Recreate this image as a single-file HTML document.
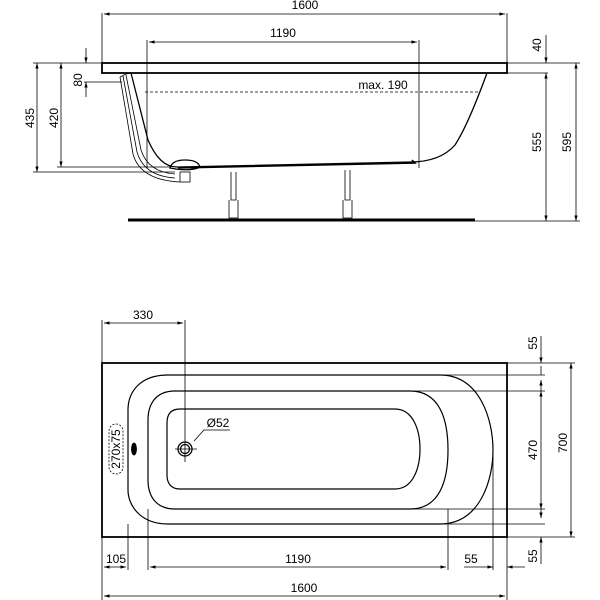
<!DOCTYPE html>
<html><head><meta charset="utf-8"><style>
html,body{margin:0;padding:0;background:#fff;}
svg{display:block;font-family:"Liberation Sans",Arial,sans-serif;}
</style></head><body>
<svg width="600" height="600" viewBox="0 0 600 600" xmlns="http://www.w3.org/2000/svg">
<defs>
<marker id="a" viewBox="0 0 10 10" refX="10" refY="5" markerWidth="7" markerHeight="7" orient="auto-start-reverse"><path d="M0,2 L10,5 L0,8 z" fill="#000"/></marker>
</defs>
<g stroke="#000" fill="none" stroke-width="0.8">
<!-- SIDE VIEW -->
<rect x="102" y="63" width="405" height="10" stroke-width="1.8"/>
<!-- tub body -->
<path d="M131,73 L148,140 Q160,168 178,167 L410,162 Q440,162 455,145 Q468,125 487,73" stroke-width="1.3"/>
<path d="M178,168 L415,163 L412,160" stroke-width="1.5"/>
<!-- pipes -->
<path d="M126,75 L141,150 Q148,172 175,174" />
<path d="M123,76 L137,152 Q144,176 175,178" />
<path d="M120,77 L133,154 Q140,180 180,182" />
<path d="M120,77 L126,74 L131,73"/>
<path d="M170,168 Q172,160 185,160 Q198,160 200,167 Q190,172 170,168 z" stroke-width="1.3"/>
<rect x="180" y="172" width="10" height="10"/>
<!-- dashed water line -->
<line x1="145" y1="92" x2="478" y2="92" stroke-dasharray="3,2"/>
<!-- legs -->
<path d="M231,172 L231,200 L236,200 L236,172 M229,200 L229,218 L238,218 L238,200"/>
<path d="M345,170 L345,200 L350,200 L350,170 M343,200 L343,218 L352,218 L352,200"/>
<line x1="128" y1="220" x2="475" y2="220" stroke-width="3"/>
<!-- dims side -->
<line x1="102" y1="13" x2="102" y2="63"/><line x1="507" y1="13" x2="507" y2="63"/>
<line x1="104" y1="14" x2="505" y2="14" marker-start="url(#a)" marker-end="url(#a)"/>
<line x1="147" y1="40" x2="147" y2="168"/><line x1="419" y1="40" x2="419" y2="168"/>
<line x1="149" y1="42" x2="417" y2="42" marker-start="url(#a)" marker-end="url(#a)"/>
<line x1="33" y1="63" x2="102" y2="63"/>
<line x1="507" y1="63" x2="580" y2="63"/><line x1="507" y1="73" x2="548" y2="73"/>
<line x1="546" y1="35" x2="546" y2="63" marker-end="url(#a)"/>
<line x1="546" y1="73" x2="546" y2="221" marker-start="url(#a)" marker-end="url(#a)"/>
<line x1="576" y1="63" x2="576" y2="221" marker-start="url(#a)" marker-end="url(#a)"/>
<line x1="475" y1="221" x2="580" y2="221"/>
<line x1="84" y1="82" x2="122" y2="82"/>
<line x1="86" y1="48" x2="86" y2="63" marker-end="url(#a)"/>
<line x1="86" y1="97" x2="86" y2="82" marker-end="url(#a)"/>
<line x1="37" y1="63" x2="37" y2="172" marker-start="url(#a)" marker-end="url(#a)"/>
<line x1="61" y1="63" x2="61" y2="167" marker-start="url(#a)" marker-end="url(#a)"/>
<line x1="33" y1="172" x2="175" y2="172"/>
<line x1="57" y1="167" x2="170" y2="167"/>

<!-- TOP VIEW -->
<rect x="102" y="363" width="405" height="174" stroke-width="1.8"/>
<path d="M168,375 L440,375 C480,375 493,420 493,450 C493,480 480,524 440,524 L168,524 C140,524 128,505 128,490 L128,410 C128,392 140,375 168,375 z" stroke-width="1.2"/>
<path d="M175,391 L410,391 C440,391 448,420 448,450 C448,480 440,509 410,509 L175,509 C155,509 148,495 148,480 L148,420 C148,405 155,391 175,391 z" stroke-width="1.2"/>
<path d="M180,409 L395,409 C413,409 420,430 420,449 C420,468 413,489 395,489 L180,489 C170,489 167,482 167,475 L167,423 C167,415 170,409 180,409 z" stroke-width="1.2"/>
<circle cx="185" cy="449" r="7" stroke-width="1.3"/><circle cx="185" cy="449" r="4.5" stroke-width="1.3"/>
<line x1="175" y1="449" x2="197" y2="449"/>
<line x1="185" y1="320" x2="185" y2="462"/>
<path d="M194,441 L204,430 L230,430"/>
<ellipse cx="134" cy="449" rx="2.5" ry="6" fill="#000"/>
<rect x="109" y="424" width="14" height="50" rx="7" stroke-dasharray="2,1.5"/>
<!-- top view dims -->
<line x1="102" y1="320" x2="102" y2="363"/>
<line x1="104" y1="323" x2="183" y2="323" marker-start="url(#a)" marker-end="url(#a)"/>
<line x1="507" y1="363" x2="575" y2="363"/><line x1="507" y1="537" x2="575" y2="537"/>
<line x1="440" y1="375" x2="545" y2="375"/><line x1="410" y1="391" x2="545" y2="391"/>
<line x1="410" y1="509" x2="545" y2="509"/><line x1="440" y1="524" x2="545" y2="524"/>
<line x1="541" y1="336" x2="541" y2="363" marker-end="url(#a)"/>
<line x1="541" y1="366" x2="541" y2="375"/>
<line x1="541" y1="380" x2="541" y2="391" marker-start="url(#a)"/>
<line x1="541" y1="391" x2="541" y2="509" marker-start="url(#a)" marker-end="url(#a)"/>
<line x1="541" y1="509" x2="541" y2="518" marker-end="url(#a)"/>
<line x1="541" y1="564" x2="541" y2="537" marker-end="url(#a)"/>
<line x1="571" y1="363" x2="571" y2="537" marker-start="url(#a)" marker-end="url(#a)"/>
<line x1="102" y1="537" x2="102" y2="600"/>
<line x1="128" y1="524" x2="128" y2="570"/>
<line x1="148" y1="509" x2="148" y2="570"/>
<line x1="448" y1="509" x2="448" y2="570"/>
<line x1="493" y1="450" x2="493" y2="570"/>
<line x1="507" y1="537" x2="507" y2="600"/>
<line x1="104" y1="567" x2="126" y2="567" marker-start="url(#a)" marker-end="url(#a)"/>
<line x1="150" y1="567" x2="446" y2="567" marker-start="url(#a)" marker-end="url(#a)"/>
<line x1="464" y1="567" x2="493" y2="567" marker-end="url(#a)"/>
<line x1="525" y1="567" x2="507" y2="567" marker-end="url(#a)"/>
<line x1="104" y1="596" x2="505" y2="596" marker-start="url(#a)" marker-end="url(#a)"/>
</g>
<g font-size="12" fill="#000" text-anchor="middle">
<text x="305" y="9">1600</text>
<text x="283" y="37">1190</text>
<text x="383" y="89">max. 190</text>
<text transform="translate(541,45) rotate(-90)">40</text>
<text transform="translate(82,80) rotate(-90)">80</text>
<text transform="translate(34,118) rotate(-90)">435</text>
<text transform="translate(58,118) rotate(-90)">420</text>
<text transform="translate(541,142) rotate(-90)">555</text>
<text transform="translate(571,142) rotate(-90)">595</text>
<text x="143" y="319">330</text>
<text x="218" y="427">Ø52</text>
<text transform="translate(120,449) rotate(-90)">270x75</text>
<text transform="translate(537,343) rotate(-90)">55</text>
<text transform="translate(537,450) rotate(-90)">470</text>
<text transform="translate(567,443) rotate(-90)">700</text>
<text transform="translate(537,556) rotate(-90)">55</text>
<text x="116" y="563">105</text>
<text x="298" y="563">1190</text>
<text x="471" y="563">55</text>
<text x="304" y="592">1600</text>
</g>
</svg>
</body></html>
